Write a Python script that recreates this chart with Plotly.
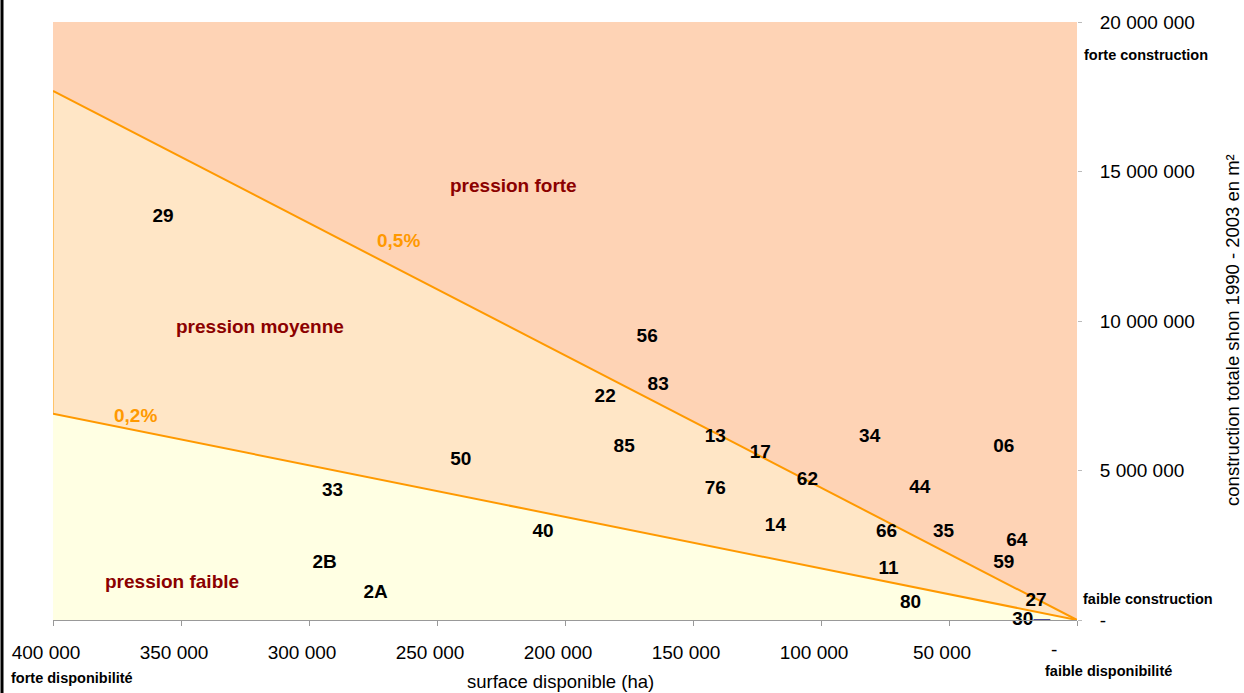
import plotly.graph_objects as go

# ---- data ----
departements = ["29", "56", "83", "22", "85", "13", "17", "76", "62", "34", "06", "44",
                "14", "66", "35", "64", "59", "11", "80", "27", "30", "50", "33", "40",
                "2B", "2A"]
surface_ha = [357000, 167900, 163600, 184300, 176900, 141300, 123700, 141300, 105300,
              81000, 28600, 61400, 117800, 74400, 52100, 23500, 28600, 73600, 65000,
              16000, 13700, 240700, 290800, 208600, 293900, 274000]
construction_m2 = [13470000, 9450000, 7860000, 7460000, 5770000, 6100000, 5570000,
                   4380000, 4680000, 6100000, 5770000, 4410000, 3120000, 2950000,
                   2950000, 2650000, 1890000, 1690000, 560000, 630000, 0, 5340000,
                   4310000, 2950000, 1890000, 900000]

seuil_x = [400000, 0]
seuil_05 = [17700000, 0]   # 0,5 %
seuil_02 = [6900000, 0]    # 0,2 %

x_ticks = [400000, 350000, 300000, 250000, 200000, 150000, 100000, 50000, 0]
x_ticktext = ["400 000", "350 000", "300 000", "250 000", "200 000", "150 000",
              "100 000", "50 000", " "]
y_ticks = [0, 5000000, 10000000, 15000000, 20000000]
y_ticktext = ["-", "5 000 000", "10 000 000", "15 000 000", "20 000 000"]

X_MAX, Y_MAX = 400000, 20000000

FONT = "Liberation Sans, Arial, sans-serif"
ORANGE = "#FF9900"
DARKRED = "#8B0000"

fig = go.Figure()

# zones
fig.add_trace(go.Scatter(x=[X_MAX, X_MAX, 0, 0, X_MAX], y=[seuil_05[0], Y_MAX, Y_MAX, 0, seuil_05[0]],
                         fill="toself", fillcolor="#FED3B5", line=dict(width=0),
                         mode="lines", hoverinfo="skip", showlegend=False))
fig.add_trace(go.Scatter(x=[X_MAX, X_MAX, 0, X_MAX], y=[seuil_02[0], seuil_05[0], 0, seuil_02[0]],
                         fill="toself", fillcolor="#FFE6C6", line=dict(width=0),
                         mode="lines", hoverinfo="skip", showlegend=False))
fig.add_trace(go.Scatter(x=[X_MAX, X_MAX, 0, X_MAX], y=[0, seuil_02[0], 0, 0],
                         fill="toself", fillcolor="#FFFFE3", line=dict(width=0),
                         mode="lines", hoverinfo="skip", showlegend=False))
# left edge of middle zone
fig.add_trace(go.Scatter(x=[X_MAX, X_MAX], y=[seuil_02[0], seuil_05[0]], mode="lines",
                         line=dict(color="#FFC46A", width=2), hoverinfo="skip", showlegend=False))
# threshold lines
fig.add_trace(go.Scatter(x=seuil_x, y=seuil_05, mode="lines",
                         line=dict(color=ORANGE, width=2), showlegend=False))
fig.add_trace(go.Scatter(x=seuil_x, y=seuil_02, mode="lines",
                         line=dict(color=ORANGE, width=2), showlegend=False))

# departments
positions = ["middle left" if d == "30" else "middle center" for d in departements]
markers = [12 if d == "30" else 0 for d in departements]
fig.add_trace(go.Scatter(x=surface_ha, y=construction_m2, mode="markers+text",
                         text=departements, textposition=positions,
                         marker=dict(symbol="line-ew", size=markers, color="#000080",
                                     line=dict(color="#000080", width=2)),
                         textfont=dict(family=FONT, size=19, color="black", weight="bold"),
                         cliponaxis=False, showlegend=False))

fig.update_layout(
    width=1244, height=693,
    margin=dict(l=53, r=167, t=18, b=73),
    paper_bgcolor="white", plot_bgcolor="white",
    font=dict(family=FONT, color="black"),
    xaxis=dict(range=[X_MAX, 0], tickvals=x_ticks, ticktext=x_ticktext,
               showgrid=False, zeroline=False, showline=True, linecolor="#999999",
               linewidth=1, ticks="outside", ticklen=5, tickcolor="#999999",
               tickfont=dict(size=19, family=FONT), ticklabelstandoff=10,
               ticklabelshift=7),
    yaxis=dict(range=[0, Y_MAX], side="right", tickvals=y_ticks, ticktext=y_ticktext,
               showgrid=False, zeroline=False, showline=False,
               ticks="outside", ticklen=4, tickcolor="#BBBBBB",
               tickfont=dict(size=19, family=FONT), ticklabelstandoff=14),
)

def px2paper(px, py):
    return (px - 53) / 1024, (620 - py) / 602

annots = [
    ("pression forte", 513, 183, DARKRED, 19, True, 0),
    ("pression moyenne", 260, 325, DARKRED, 19, True, 0),
    ("pression faible", 172, 581, DARKRED, 19, True, 0),
    ("0,5%", 398, 238, ORANGE, 19, True, 0),
    ("0,2%", 135, 414, ORANGE, 19, True, 0),
    ("forte construction", 1146, 51, "black", 14.5, True, 0),
    ("faible construction", 1148, 599, "black", 14.5, True, 0),
    ("forte disponibilité", 72, 678, "black", 14.5, True, 0),
    ("faible disponibilité", 1108, 671, "black", 14.5, True, 0),
    ("-", 1054, 650, "black", 19, False, 0),
    ("surface disponible (ha)", 560, 682, "black", 18.5, False, 0),
    ("construction totale shon 1990 - 2003 en m²", 1233, 328, "black", 18.5, False, -90),
]
for txt, px, py, col, sz, bold, ang in annots:
    ax, ay = px2paper(px, py)
    fig.add_annotation(x=ax, y=ay, xref="paper", yref="paper", text=txt, showarrow=False,
                       textangle=ang, xanchor="center", yanchor="middle",
                       font=dict(family=FONT, size=sz, color=col,
                                 weight="bold" if bold else "normal"))

# left black border
bx, _ = px2paper(2, 0)
fig.add_shape(type="line", xref="paper", yref="paper", x0=bx, x1=bx, y0=-0.2, y1=1.1,
              line=dict(color="black", width=3))

fig.write_html("out.html", config={"displayModeBar": False},
               post_script="document.body.style.margin='0';document.body.style.overflow='hidden';")
